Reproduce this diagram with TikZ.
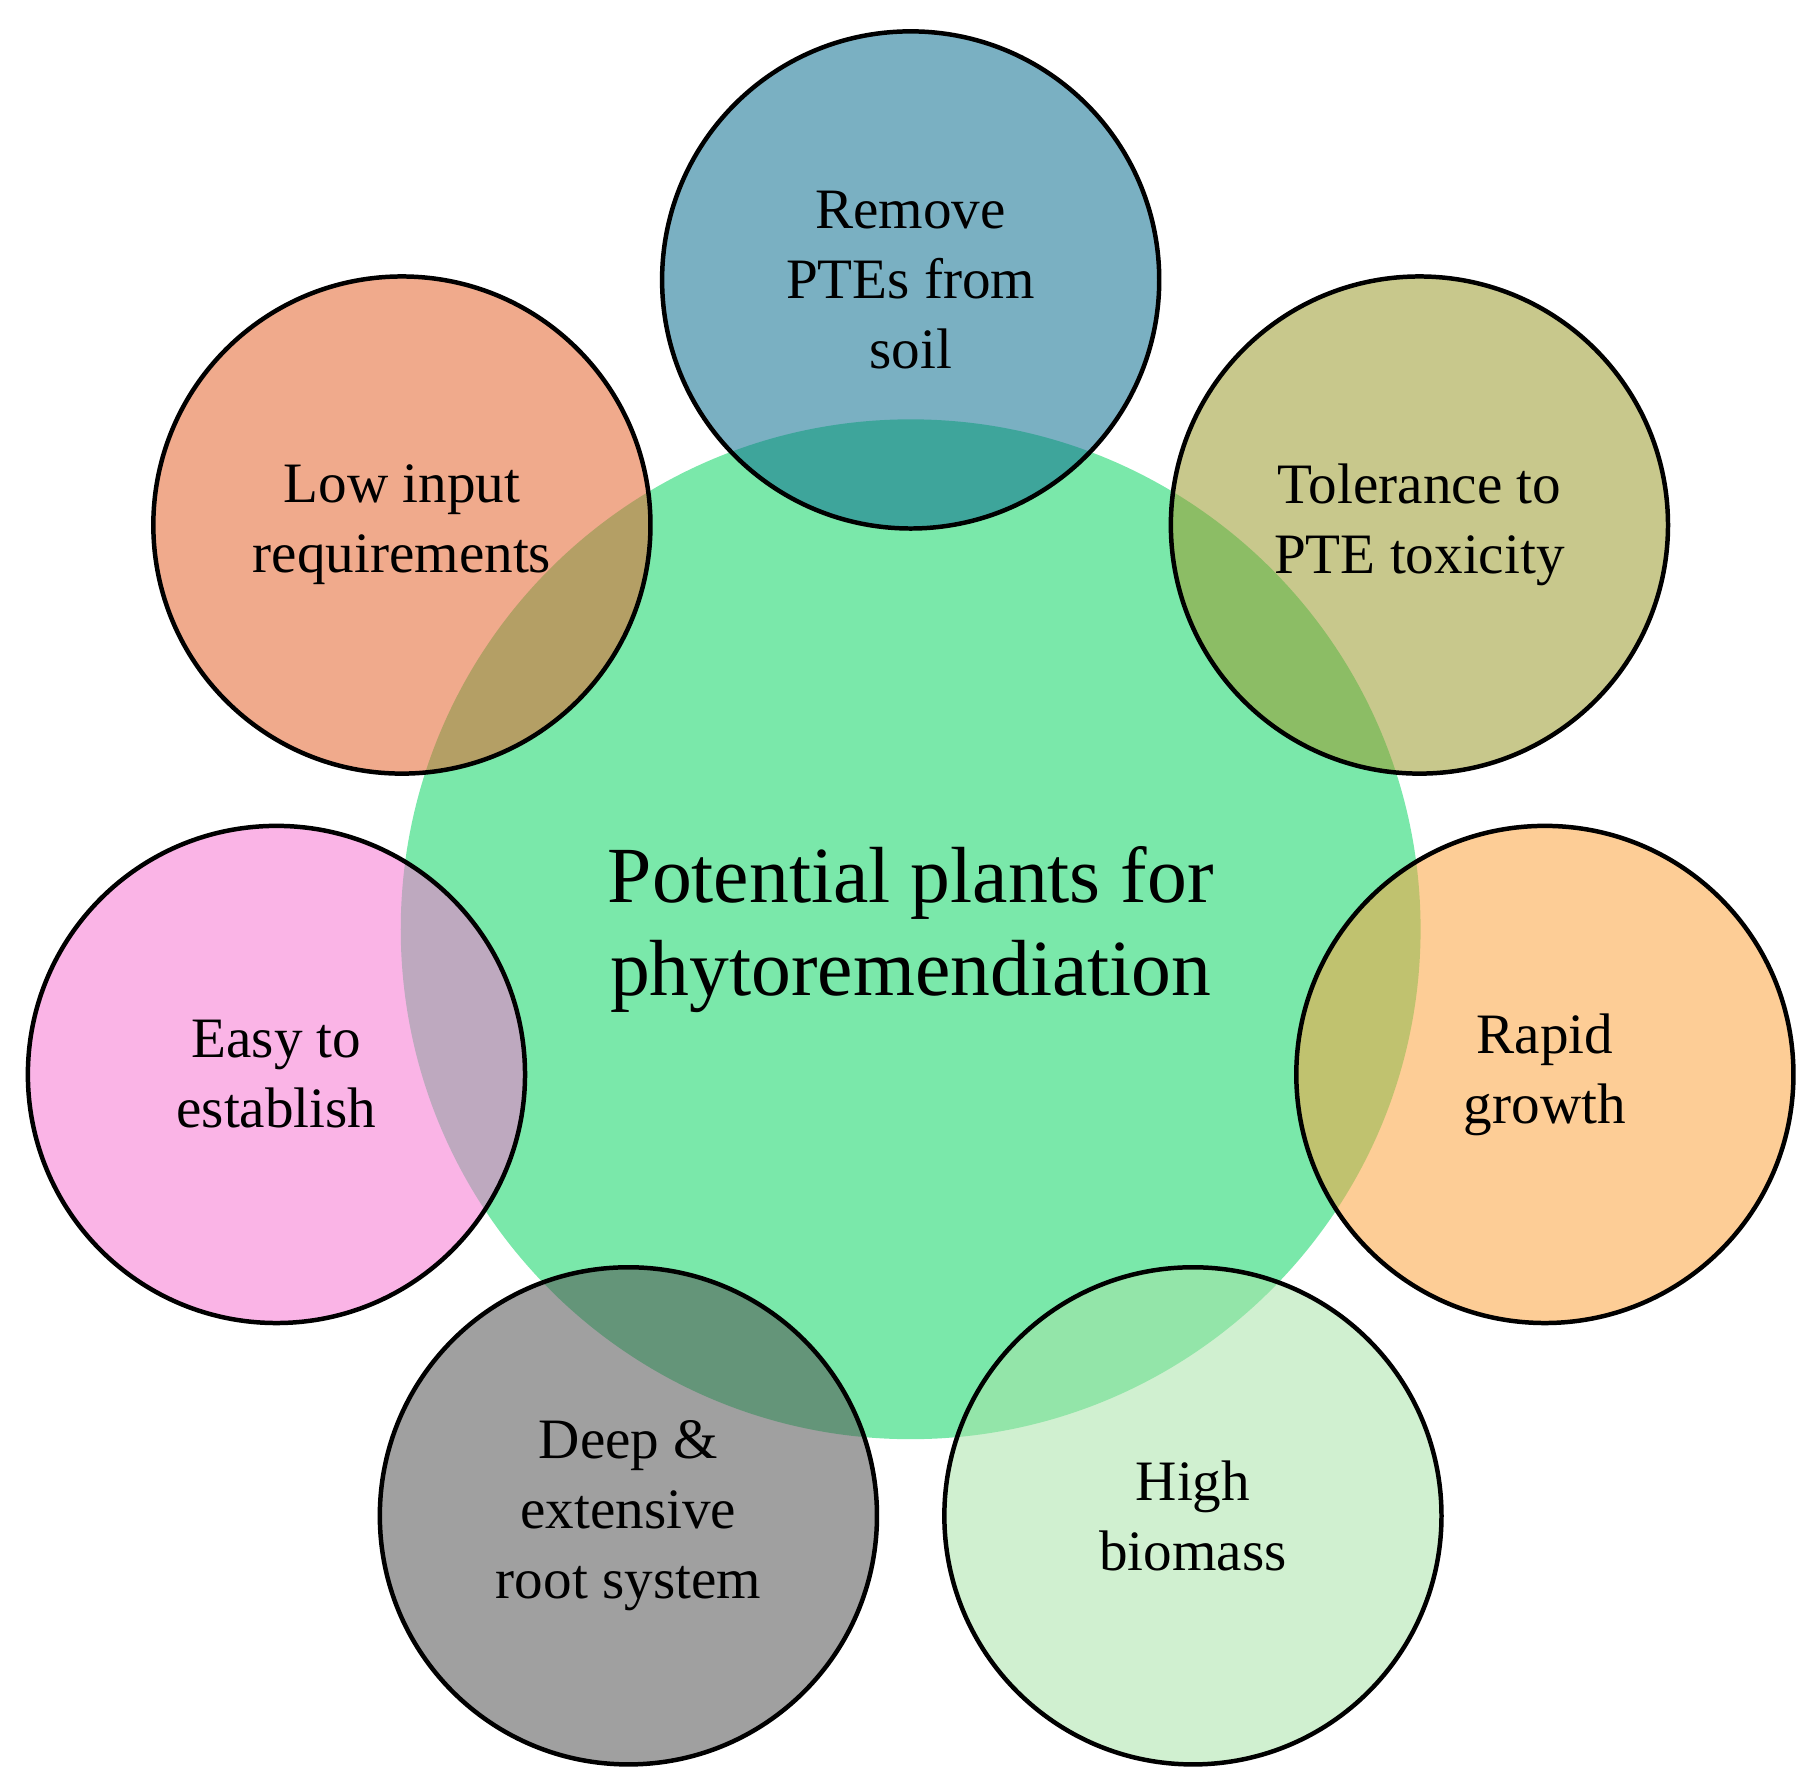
\documentclass[tikz,border=0pt]{standalone}
\usepackage{fontspec}
\setmainfont{Liberation Serif}
\begin{document}
\begin{tikzpicture}[x=0.1mm,y=-0.1mm,
  sm/.style={circle,draw=black,line width=1.1pt,minimum size=42.8mm,inner sep=0pt,align=center,fill opacity=0.55,text opacity=1,draw opacity=1,font=\fontsize{14}{17.2}\selectfont}]
\useasboundingbox (0,0) rectangle (1566,1537);
\definecolor{cg}{RGB}{122,232,170}
\definecolor{cb}{RGB}{13,111,144}
\definecolor{cs}{RGB}{228,100,46}
\definecolor{co}{RGB}{155,155,46}
\definecolor{cp}{RGB}{246,119,210}
\definecolor{cr}{RGB}{251,164,64}
\definecolor{cy}{RGB}{82,82,82}
\definecolor{cl}{RGB}{169,228,169}
\node[circle,fill=cg,minimum size=87.8mm,inner sep=0pt,align=center,font=\fontsize{19.5}{22.8}\selectfont] (c) at (784,800) {Potential plants for\\phytoremendiation};
\node[sm,fill=cb] (t) at (784,241) {Remove\\PTEs from\\soil};
\node[sm,fill=cs] (ul) at (346,452) {Low input\\requirements};
\node[sm,fill=co] (ur) at (1222,452) {Tolerance to\\PTE toxicity};
\node[sm,fill=cp] (l) at (238,925) {Easy to\\establish};
\node[sm,fill=cr] (r) at (1330,925) {Rapid\\growth};
\node[sm,fill=cy] (bl) at (541,1305) {Deep \&\\extensive\\root system};
\node[sm,fill=cl] (br) at (1027,1305) {High\\biomass};
\end{tikzpicture}
\end{document}
